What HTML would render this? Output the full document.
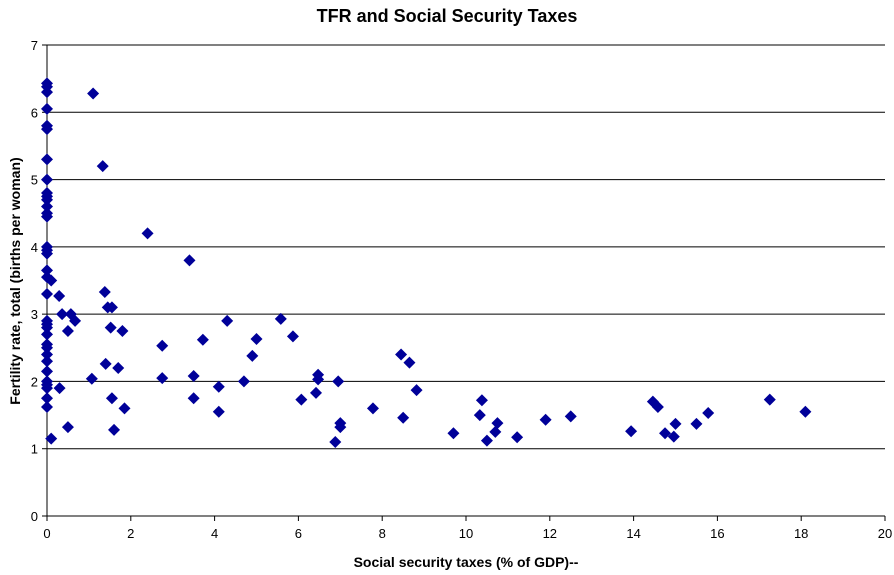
<!DOCTYPE html>
<html><head><meta charset="utf-8"><style>
body{margin:0;background:#fff;font-family:"Liberation Sans",Arial,sans-serif}
svg{display:block}
</style></head><body>
<svg id="chart" width="894" height="575">
<text x="447" y="22" text-anchor="middle" font-size="18" font-weight="bold">TFR and Social Security Taxes</text>
<g id="grid"></g><g id="axes"></g><g id="points"></g>
<text x="466" y="567" text-anchor="middle" font-size="14" font-weight="bold">Social security taxes (% of GDP)--</text>
<text transform="translate(20,281) rotate(-90)" text-anchor="middle" font-size="14" font-weight="bold">Fertility rate, total (births per woman)</text>
</svg>
<script>
const xTicks=[0,2,4,6,8,10,12,14,16,18,20];
const yTicks=[0,1,2,3,4,5,6,7];
const xVals=[0,0,0,0,0,0,0,0,0,0,0,0,0,0,0,0,0,0,0,0,0,0,0,0,0,0,0,0,0,0,0,0,0,0,0.1,0.1,
1.1,1.33,2.4,3.4,0.29,1.38,1.45,1.55,0.36,0.57,0.67,0.5,1.52,1.8,1.07,1.4,1.7,0.3,1.55,1.85,0.5,1.6,2.75,2.75,3.5,3.5,3.72,4.1,4.1,4.3,
4.9,5.0,4.7,5.58,5.87,6.07,6.42,6.47,6.47,6.95,7.0,7.0,6.88,7.78,8.45,8.65,8.5,8.82,9.7,10.38,10.33,10.5,10.7,10.75,11.22,11.9,12.5,13.94,14.46,14.58,14.75,14.96,15.0,15.5,15.78,17.25,18.1];
const yVals=[6.43,6.38,6.3,6.05,5.8,5.75,5.3,5.0,4.8,4.75,4.7,4.6,4.5,4.45,4.0,3.95,3.9,3.65,3.55,3.3,2.9,2.85,2.8,2.7,2.55,2.5,2.4,2.3,2.15,2.0,1.95,1.9,1.75,1.62,3.5,1.15,
6.28,5.2,4.2,3.8,3.27,3.33,3.1,3.1,3.0,3.0,2.9,2.75,2.8,2.75,2.04,2.26,2.2,1.9,1.75,1.6,1.32,1.28,2.53,2.05,2.08,1.75,2.62,1.92,1.55,2.9,
2.38,2.63,2.0,2.93,2.67,1.73,1.83,2.1,2.03,2.0,1.38,1.32,1.1,1.6,2.4,2.28,1.46,1.87,1.23,1.72,1.5,1.12,1.25,1.38,1.17,1.43,1.48,1.26,1.7,1.62,1.23,1.18,1.37,1.37,1.53,1.73,1.55];
const X0=47,X1=885,Y0=516,Y1=45;
const sx=v=>X0+(v-0)/20*(X1-X0);
const sy=v=>Y0-(v-0)/7*(Y0-Y1);
const NS="http://www.w3.org/2000/svg";
const mk=(t,a,p)=>{const e=document.createElementNS(NS,t);for(const k in a)e.setAttribute(k,a[k]);p.appendChild(e);return e;};
const grid=document.getElementById('grid'),axes=document.getElementById('axes'),pts=document.getElementById('points');
yTicks.forEach(v=>{
  if(v>0){const l=mk('line',{x1:X0,x2:X1,y1:sy(v),y2:sy(v),stroke:'#000','stroke-width':1},grid);
  
  }
  mk('line',{x1:X0-5,x2:X0,y1:sy(v),y2:sy(v),stroke:'#000'},axes);
  const t=mk('text',{x:X0-9,y:sy(v)+5,'text-anchor':'end','font-size':13},axes);t.textContent=v;
  
  
});
xTicks.forEach(v=>{
  mk('line',{x1:sx(v),x2:sx(v),y1:Y0,y2:Y0+5,stroke:'#000'},axes);
  const t=mk('text',{x:sx(v),y:Y0+22,'text-anchor':'middle','font-size':13},axes);t.textContent=v;
  
  
});
mk('line',{x1:X0,x2:X0,y1:Y1,y2:Y0,stroke:'#000'},axes);
mk('line',{x1:X0,x2:X1,y1:Y0,y2:Y0,stroke:'#000'},axes);
xVals.forEach((xv,i)=>{
  const x=sx(xv),y=sy(yVals[i]);
  const p=mk('polygon',{points:`${x},${y-6} ${x+6},${y} ${x},${y+6} ${x-6},${y}`,fill:'#000099'},pts);
  
  
});
</script>
</body></html>
